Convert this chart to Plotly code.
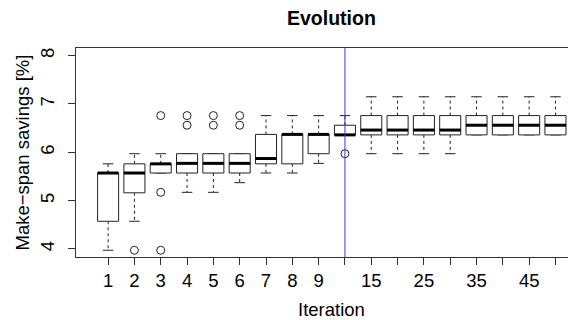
import plotly.graph_objects as go

categories = ["1", "2", "3", "4", "5", "6", "7", "8", "9", "10",
              "15", "20", "25", "30", "35", "40", "45", "50"]
tick_labels = ["1", "2", "3", "4", "5", "6", "7", "8", "9", "",
               "15", "", "25", "", "35", "", "45", ""]
lower_fence = [3.97, 4.57, 5.57, 5.17, 5.17, 5.37, 5.57, 5.57, 5.77, 6.36,
               5.97, 5.97, 5.97, 5.97, 6.36, 6.36, 6.36, 6.36]
q1 = [4.57, 5.16, 5.57, 5.57, 5.57, 5.57, 5.76, 5.76, 5.97, 6.36,
      6.36, 6.36, 6.36, 6.36, 6.36, 6.36, 6.36, 6.36]
median = [5.57, 5.57, 5.76, 5.77, 5.77, 5.77, 5.87, 6.37, 6.37, 6.36,
          6.46, 6.46, 6.46, 6.46, 6.56, 6.56, 6.56, 6.56]
q3 = [5.57, 5.76, 5.76, 5.97, 5.97, 5.97, 6.37, 6.37, 6.37, 6.56,
      6.76, 6.76, 6.76, 6.76, 6.76, 6.76, 6.76, 6.76]
upper_fence = [5.76, 5.97, 5.97, 5.97, 5.97, 5.97, 6.76, 6.76, 6.76, 6.76,
               7.15, 7.15, 7.15, 7.15, 7.15, 7.15, 7.15, 7.15]
outlier_cat = ["2", "3", "3", "3", "4", "4", "5", "5", "6", "6", "10"]
outlier_val = [3.97, 6.76, 5.17, 3.97, 6.76, 6.56, 6.76, 6.56, 6.76, 6.56, 5.97]
marker_cat = "10"

pos = {c: i + 1 for i, c in enumerate(categories)}
BW = 0.4   # half box width
SW = 0.2   # half staple width
INK = "#222222"

bx, by, mx, my, wx, wy, sx, sy = [], [], [], [], [], [], [], []
for i, c in enumerate(categories):
    p = pos[c]
    bx += [p - BW, p + BW, p + BW, p - BW, p - BW, None]
    by += [q1[i], q1[i], q3[i], q3[i], q1[i], None]
    mx += [p - BW, p + BW, None]
    my += [median[i], median[i], None]
    if upper_fence[i] > q3[i]:
        wx += [p, p, None]
        wy += [q3[i], upper_fence[i], None]
    if lower_fence[i] < q1[i]:
        wx += [p, p, None]
        wy += [q1[i], lower_fence[i], None]
    sx += [p - SW, p + SW, None, p - SW, p + SW, None]
    sy += [upper_fence[i], upper_fence[i], None, lower_fence[i], lower_fence[i], None]

fig = go.Figure()
fig.add_trace(go.Scatter(x=wx, y=wy, mode="lines",
                         line=dict(color=INK, width=1, dash="3px,3px"),
                         hoverinfo="skip"))
fig.add_trace(go.Scatter(x=sx, y=sy, mode="lines",
                         line=dict(color=INK, width=1), hoverinfo="skip"))
fig.add_trace(go.Scatter(x=bx, y=by, mode="lines", fill="toself",
                         fillcolor="white",
                         line=dict(color=INK, width=1), hoverinfo="skip"))
fig.add_trace(go.Scatter(x=mx, y=my, mode="lines",
                         line=dict(color="black", width=3), hoverinfo="skip"))
fig.add_trace(go.Scatter(x=[pos[c] for c in outlier_cat], y=outlier_val,
                         mode="markers",
                         marker=dict(symbol="circle-open", size=8,
                                     color=INK, line=dict(width=1))))

fig.add_shape(type="line", xref="x", yref="paper",
              x0=pos[marker_cat], x1=pos[marker_cat], y0=0, y1=1,
              line=dict(color="#3333ff", width=1))

font = "Liberation Sans, Arial, sans-serif"
FS = 18.5
fig.update_layout(
    width=568, height=312,
    margin=dict(l=68, r=0, t=40, b=63),
    paper_bgcolor="white", plot_bgcolor="white",
    showlegend=False,
    font=dict(family=font, size=FS, color="black"),
    xaxis=dict(range=[-0.22, 18.78], tickmode="array", automargin=False,
               tickvals=[pos[c] for c in categories], ticktext=tick_labels,
               showgrid=False, zeroline=False, showline=True, mirror=True,
               linecolor="#333333", linewidth=1, ticks="outside",
               ticklen=7, tickcolor="#333333", tickfont=dict(size=FS)),
    yaxis=dict(range=[3.83, 8.16], tickvals=[4, 5, 6, 7, 8], automargin=False,
               showgrid=False, zeroline=False, showline=True, mirror=True,
               linecolor="#333333", linewidth=1, ticks="outside",
               ticklen=7, tickcolor="#333333", tickangle=-90,
               ticklabelstandoff=7, tickfont=dict(size=FS)),
    annotations=[
        dict(text="<b>Evolution</b>", xref="paper", yref="paper",
             x=(331.5 - 76) / 500, y=1 + 30 / 209, xanchor="center",
             yanchor="middle", showarrow=False, font=dict(size=19.5)),
        dict(text="Iteration", xref="paper", yref="paper",
             x=(331.5 - 76) / 500, y=-(309 - 257) / 209, xanchor="center",
             yanchor="middle", showarrow=False, font=dict(size=FS)),
        dict(text="Make\u2212span savings [%]", xref="paper", yref="paper",
             x=-(76 - 22) / 500, y=0.5, xanchor="center", yanchor="middle",
             textangle=-90, showarrow=False, font=dict(size=FS)),
    ],
)

fig.write_html("out.html")
